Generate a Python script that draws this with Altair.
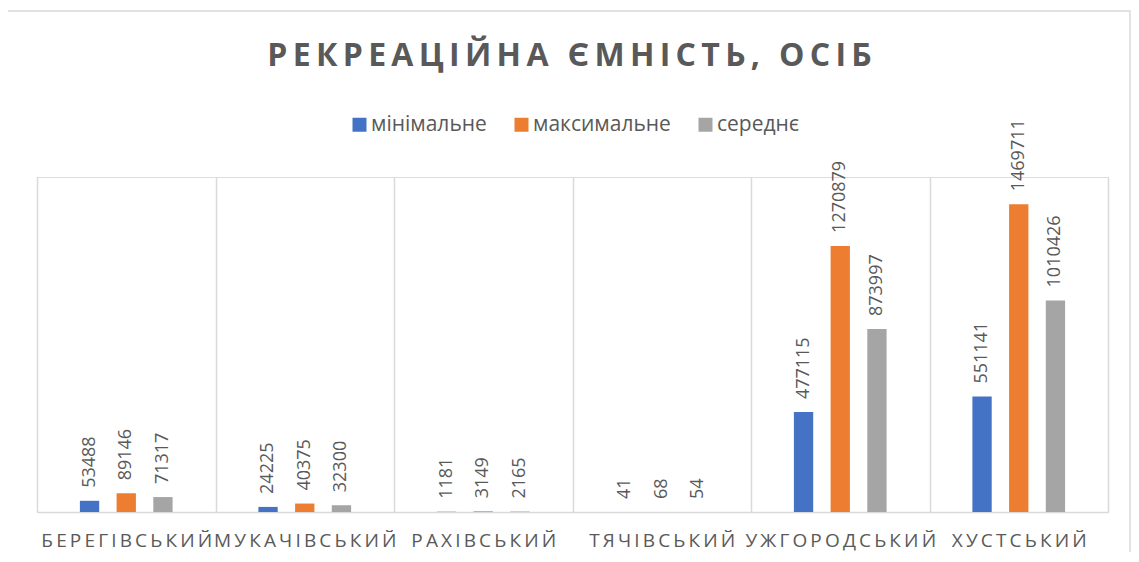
import altair as alt
import pandas as pd

categories = ["БЕРЕГІВСЬКИЙ", "МУКАЧІВСЬКИЙ", "РАХІВСЬКИЙ", "ТЯЧІВСЬКИЙ", "УЖГОРОДСЬКИЙ", "ХУСТСЬКИЙ"]
series_names = ["мінімальне", "максимальне", "середнє"]
minimal = [53488, 24225, 1181, 41, 477115, 551141]
maximal = [89146, 40375, 3149, 68, 1270879, 1469711]
average = [71317, 32300, 2165, 54, 873997, 1010426]
colors = ["#4472C4", "#ED7D31", "#A5A5A5"]
title_text = "РЕКРЕАЦІЙНА ЄМНІСТЬ, ОСІБ"

rows = []
for name, vals in zip(series_names, [minimal, maximal, average]):
    for c, v in zip(categories, vals):
        rows.append({"район": c, "серія": name, "значення": v})
df = pd.DataFrame(rows)

FONT = "Open Sans"
GREY = "#595959"

x_enc = alt.X(
    "район:N", sort=categories, title=None,
    scale=alt.Scale(paddingInner=0, paddingOuter=0),
    axis=alt.Axis(
        grid=True, gridColor="#d9d9d9", gridWidth=1.5, tickBand="extent",
        ticks=False, domainColor="#d9d9d9", domainWidth=1.5,
        labelAngle=0, labelFont=FONT, labelFontSize=19, labelColor=GREY,
        labelPadding=19, labelLimit=400, labelOverlap=False,
        labelExpr="join(split(datum.label, ''), '\u2009')",
    ),
)
xoff = alt.XOffset("серія:N", sort=series_names,
                   scale=alt.Scale(paddingInner=0.474, paddingOuter=0, range=[42.9, 135.6]))
y_enc = alt.Y("значення:Q", axis=None, scale=alt.Scale(domain=[0, 1600000]))

bars = alt.Chart(df).mark_bar().encode(
    x=x_enc, xOffset=xoff, y=y_enc,
    color=alt.Color(
        "серія:N", sort=series_names,
        scale=alt.Scale(domain=series_names, range=colors),
        legend=alt.Legend(
            title=None, orient="none", direction="horizontal",
            legendX=312, legendY=-63, padding=0,
            symbolType="square", symbolSize=196, symbolStrokeWidth=0,
            labelFont=FONT, labelFontSize=21, labelColor=GREY,
            labelOffset=1, columnPadding=24,
        ),
    ),
)

labels = alt.Chart(df).mark_text(
    angle=270, align="left", baseline="middle", dx=13,
    font=FONT, fontSize=18, color=GREY,
).encode(x=x_enc, xOffset=xoff, y=y_enc, text=alt.Text("значення:Q", format="d"))

border = alt.Chart(alt.Data(values=[{}])).mark_rect(
    fill="transparent", stroke="#d9d9d9", strokeWidth=1.5
).encode(x=alt.value(-30), x2=alt.value(1093), y=alt.value(-166), y2=alt.value(420))

chart = alt.layer(border, bars, labels).properties(
    width=1071, height=335,
    title=alt.TitleParams(
        "\u2009".join(title_text), font=FONT, fontSize=32, fontWeight="bold",
        color=GREY, anchor="middle", offset=0, dy=88, dx=-3, baseline="alphabetic",
    ),
    autosize=alt.AutoSizeParams(type="none"),
    padding={"left": 29, "top": 169, "right": 23, "bottom": 40},
).configure_view(stroke=None).configure(background="white")

chart.save("out.html", embed_options={"renderer": "svg", "actions": False})
